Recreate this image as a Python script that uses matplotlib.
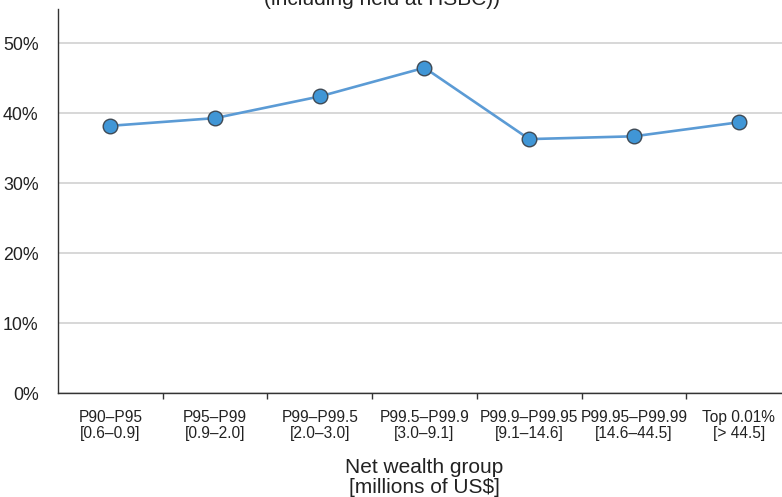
import matplotlib
matplotlib.use("Agg")
import matplotlib.pyplot as plt
from matplotlib.ticker import FuncFormatter

plt.rcParams["font.family"] = ["Liberation Sans", "DejaVu Sans"]

groups = ["P90–P95", "P95–P99", "P99–P99.5", "P99.5–P99.9",
          "P99.9–P99.95", "P99.95–P99.99", "Top 0.01%"]
ranges = ["[0.6–0.9]", "[0.9–2.0]", "[2.0–3.0]", "[3.0–9.1]",
          "[9.1–14.6]", "[14.6–44.5]", "[> 44.5]"]
share = [38.2, 39.3, 42.4, 46.5, 36.3, 36.7, 38.7]
yticks = [0, 10, 20, 30, 40, 50]

W, H = 782, 497
fig = plt.figure(figsize=(W / 100, H / 100), dpi=100)
ax = fig.add_axes([58 / W, 1 - 393 / H, 733 / W, 384 / H])

x = list(range(len(groups)))
ax.plot(x, share, color="#5b9bd5", linewidth=1.9, zorder=3,
        marker="o", markersize=10.5, markerfacecolor="#4096d6",
        markeredgecolor="#3f4a55", markeredgewidth=1.0)

ax.set_xlim(-0.5, len(groups) - 0.5)
ax.set_ylim(0, 54.9)
ax.set_yticks(yticks)
ax.yaxis.set_major_formatter(FuncFormatter(lambda v, _: f"{v:.0f}%"))
ax.grid(axis="y", color="#d4d4d4", linewidth=1.3)
ax.set_axisbelow(True)

ax.set_xticks(x)
ax.set_xticklabels([f"{g}\n{r}" for g, r in zip(groups, ranges)],
                   fontsize=11.2, linespacing=1.12)
ax.set_xticks([i + 0.5 for i in range(len(groups) - 1)], minor=True)
ax.tick_params(axis="x", which="major", length=0, pad=12)
ax.tick_params(axis="x", which="minor", length=4, width=1, color="#333333")
ax.tick_params(axis="y", length=0, pad=14, labelsize=12.8)
for lbl in ax.get_yticklabels() + ax.get_xticklabels():
    lbl.set_color("#222222")

for side in ("top", "right"):
    ax.spines[side].set_visible(False)
for side in ("left", "bottom"):
    ax.spines[side].set_color("#333333")
    ax.spines[side].set_linewidth(1.0)

ax.set_xlabel("Net wealth group\n[millions of US$]", fontsize=15,
              linespacing=1.05, color="#222222")
ax.xaxis.set_label_coords(0.5, -0.17, transform=ax.transAxes)
ax.xaxis.label.set_va("top")

# title is cut off at the top edge of the original image
fig.text(382 / W, 1 - 5 / H, "(including held at HSBC))", fontsize=15,
         ha="center", va="baseline", color="#222222")

fig.savefig("out.png", dpi=100)
